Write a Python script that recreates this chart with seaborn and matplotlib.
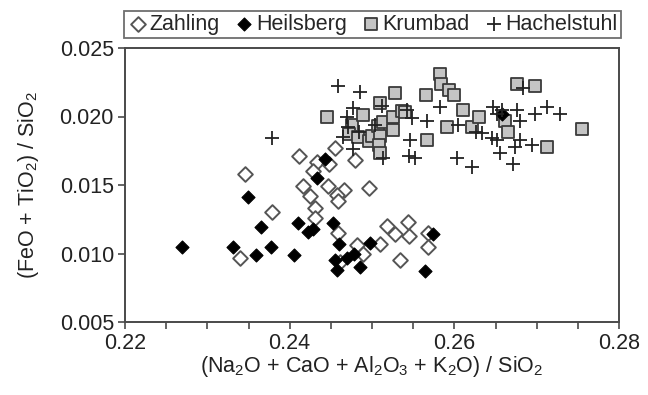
import matplotlib
matplotlib.use("Agg")
import matplotlib.pyplot as plt
import seaborn as sns
import pandas as pd
from matplotlib.ticker import MultipleLocator, FixedLocator, FormatStrFormatter

# ---- data ----
zahling_x = [0.2346, 0.2340, 0.2379, 0.2411, 0.2433, 0.2455, 0.2428, 0.2448, 0.2479, 0.2416,
             0.2447, 0.2466, 0.2496, 0.2425, 0.2457, 0.2459, 0.2431, 0.2431, 0.2459, 0.2482,
             0.2489, 0.2510, 0.2518, 0.2528, 0.2545, 0.2544, 0.2534, 0.2568, 0.2568, 0.2461]
zahling_y = [0.0158, 0.0097, 0.0130, 0.0171, 0.0167, 0.0177, 0.0160, 0.0165, 0.0168, 0.0149,
             0.0149, 0.0146, 0.0148, 0.0142, 0.0143, 0.0138, 0.0133, 0.0126, 0.0115, 0.0106,
             0.0100, 0.0107, 0.0120, 0.0114, 0.0113, 0.0123, 0.0095, 0.0115, 0.0105, 0.0094]

heilsberg_x = [0.2269, 0.2331, 0.2349, 0.2359, 0.2365, 0.2377, 0.2405, 0.2410, 0.2422, 0.2428,
               0.2433, 0.2443, 0.2453, 0.2460, 0.2455, 0.2470, 0.2478, 0.2485, 0.2457, 0.2498,
               0.2574, 0.2564, 0.2658]
heilsberg_y = [0.0105, 0.0105, 0.0141, 0.0099, 0.0119, 0.0105, 0.0099, 0.0122, 0.0116, 0.0118,
               0.0155, 0.0169, 0.0122, 0.0107, 0.0095, 0.0097, 0.0100, 0.0090, 0.0088, 0.0108,
               0.0114, 0.0087, 0.0202]

krumbad_x = [0.2445, 0.2476, 0.2472, 0.2483, 0.2489, 0.2496, 0.2500, 0.2507, 0.2510, 0.2510,
             0.2509, 0.2510, 0.2513, 0.2526, 0.2526, 0.2528, 0.2536, 0.2540, 0.2566, 0.2567,
             0.2583, 0.2584, 0.2594, 0.2600, 0.2611, 0.2621, 0.2630, 0.2591, 0.2662, 0.2665,
             0.2676, 0.2698, 0.2713, 0.2755]
krumbad_y = [0.0200, 0.0194, 0.0187, 0.0185, 0.0201, 0.0182, 0.0186, 0.0193, 0.0210, 0.0186,
             0.0179, 0.0173, 0.0196, 0.0200, 0.0190, 0.0217, 0.0204, 0.0203, 0.0216, 0.0183,
             0.0231, 0.0224, 0.0219, 0.0216, 0.0205, 0.0192, 0.0200, 0.0192, 0.0197, 0.0189,
             0.0224, 0.0222, 0.0178, 0.0191]

hachelstuhl_x = [0.2379, 0.2459, 0.2485, 0.2477, 0.2470, 0.2471, 0.2465, 0.2484, 0.2477, 0.2504,
                 0.2512, 0.2513, 0.2543, 0.2549, 0.2567, 0.2546, 0.2545, 0.2552, 0.2583, 0.2604,
                 0.2626, 0.2634, 0.2646, 0.2652, 0.2603, 0.2621, 0.2647, 0.2652, 0.2658, 0.2676,
                 0.2680, 0.2683, 0.2698, 0.2713, 0.2728, 0.2680, 0.2674, 0.2694, 0.2655, 0.2671]
hachelstuhl_y = [0.0184, 0.0222, 0.0218, 0.0206, 0.0200, 0.0192, 0.0185, 0.0189, 0.0176, 0.0194,
                 0.0208, 0.0170, 0.0205, 0.0199, 0.0197, 0.0183, 0.0171, 0.0170, 0.0207, 0.0194,
                 0.0189, 0.0188, 0.0184, 0.0183, 0.0170, 0.0163, 0.0207, 0.0202, 0.0205, 0.0205,
                 0.0197, 0.0221, 0.0202, 0.0207, 0.0202, 0.0183, 0.0178, 0.0179, 0.0173, 0.0165]

x_ticks = [0.22, 0.24, 0.26, 0.28]
y_ticks = [0.005, 0.010, 0.015, 0.020, 0.025]

sns.set_style("ticks")
plt.rcParams["font.family"] = ["Liberation Sans", "DejaVu Sans"]
plt.rcParams["mathtext.default"] = "regular"

FS = 15.5
AX_COLOR = "#4a4a4a"

fig = plt.figure(figsize=(6.48, 3.95), dpi=100)
ax = fig.add_axes([125 / 648, 1 - 322 / 395, 494 / 648, 274 / 395])

def frame(xs, ys, name):
    return pd.DataFrame({"x": xs, "y": ys, "site": name})

sns.scatterplot(data=frame(zahling_x, zahling_y, "Zahling"), x="x", y="y", ax=ax,
                marker="D", s=56, facecolor="white", edgecolor="#555555", linewidth=1.4,
                zorder=3, label="Zahling")
sns.scatterplot(data=frame(heilsberg_x, heilsberg_y, "Heilsberg"), x="x", y="y", ax=ax,
                marker="D", s=44, color="black", edgecolor="black", linewidth=0.8,
                zorder=4, label="Heilsberg")
sns.scatterplot(data=frame(krumbad_x, krumbad_y, "Krumbad"), x="x", y="y", ax=ax,
                marker="s", s=72, facecolor="#c4c4c4", edgecolor="#3a3a3a", linewidth=1.3,
                zorder=3, label="Krumbad")
sns.scatterplot(data=frame(hachelstuhl_x, hachelstuhl_y, "Hachelstuhl"), x="x", y="y", ax=ax,
                marker="+", s=115, color="#222222", linewidth=1.3,
                zorder=5, label="Hachelstuhl")

ax.set_xlim(0.22, 0.28)
ax.set_ylim(0.005, 0.025)
ax.xaxis.set_major_locator(FixedLocator(x_ticks))
ax.xaxis.set_minor_locator(MultipleLocator(0.005))
ax.yaxis.set_major_locator(FixedLocator(y_ticks))
ax.xaxis.set_major_formatter(FormatStrFormatter("%.2f"))
ax.yaxis.set_major_formatter(FormatStrFormatter("%.3f"))
ax.tick_params(axis="both", which="both", direction="out", length=5, width=1.2,
               color=AX_COLOR, labelsize=FS, labelcolor="#222222", pad=3)
for sp in ax.spines.values():
    sp.set_visible(True)
    sp.set_color(AX_COLOR)
    sp.set_linewidth(1.4)

ax.set_xlabel("(Na$_2$O + CaO + Al$_2$O$_3$ + K$_2$O) / SiO$_2$", fontsize=FS,
              color="#222222", labelpad=0)
ax.set_ylabel("(FeO + TiO$_2$) / SiO$_2$", fontsize=FS, color="#222222", labelpad=13)

handles, labels = ax.get_legend_handles_labels()
ax.get_legend().remove()
leg = fig.legend(handles, labels, loc="lower left",
                 bbox_to_anchor=(124 / 648, 1 - 38 / 395, 497 / 648, 35 / 395),
                 mode="expand", ncol=4, fontsize=FS, frameon=True, fancybox=False,
                 borderaxespad=0, handletextpad=0.05, handlelength=1.0,
                 borderpad=0.15, columnspacing=0.5)
leg.get_frame().set_edgecolor(AX_COLOR)
leg.get_frame().set_linewidth(1.3)

fig.savefig("out.png", dpi=100, facecolor="white")
